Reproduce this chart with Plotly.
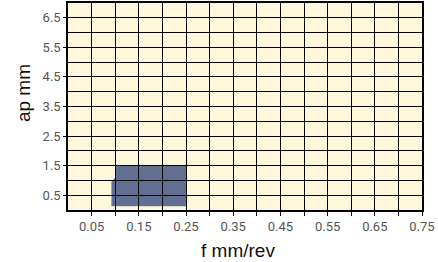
import plotly.graph_objects as go

# Data
x_tick_vals = [0.05, 0.15, 0.25, 0.35, 0.45, 0.55, 0.65, 0.75]
x_tick_text = ["0.05", "0.15", "0.25", "0.35", "0.45", "0.55", "0.65", "0.75"]
x_minor_vals = [0.1, 0.2, 0.3, 0.4, 0.5, 0.6, 0.7]
y_tick_vals = [0.5, 1.5, 2.5, 3.5, 4.5, 5.5, 6.5]
y_tick_text = ["0.5", "1.5", "2.5", "3.5", "4.5", "5.5", "6.5"]
y_minor_vals = [1, 2, 3, 4, 5, 6]
x_title = "f mm/rev"
y_title = "ap mm"

# Recommended working region (f mm/rev, ap mm) polygon vertices
region_f = [0.092, 0.092, 0.1, 0.1, 0.25, 0.25]
region_ap = [0.13, 0.95, 1.1, 1.5, 1.5, 0.13]

path = "M " + " L ".join(f"{f},{a}" for f, a in zip(region_f, region_ap)) + " Z"

fig = go.Figure()
fig.add_trace(go.Scatter(x=[0, 0.75], y=[0, 7], mode="markers",
                         marker=dict(opacity=0), hoverinfo="skip", showlegend=False))

fig.add_shape(type="path", path=path, xref="x", yref="y", layer="below",
              fillcolor="#606f92", line=dict(width=0))

title_font = dict(family="Liberation Sans, Arial", size=19, color="#111")
fig.add_annotation(text=x_title, xref="paper", yref="paper", x=0.48, y=-0.198,
                   xanchor="center", yanchor="middle", showarrow=False, font=title_font)
fig.add_annotation(text=y_title, xref="paper", yref="paper", x=-0.127, y=0.565,
                   xanchor="center", yanchor="middle", showarrow=False, textangle=-90,
                   font=title_font)

grid = dict(showgrid=True, gridcolor="#000000", gridwidth=1.3)
fig.update_layout(
    width=438, height=262,
    margin=dict(l=68, r=16, t=3, b=52),
    paper_bgcolor="white", plot_bgcolor="#fff8dc",
    font=dict(family="Roboto, Arial, sans-serif", color="#555555", size=13),
    showlegend=False,
    xaxis=dict(range=[0, 0.75], tickvals=x_tick_vals, ticktext=x_tick_text,
               ticks="outside", ticklen=4, tickcolor="#000", zeroline=False,
               showline=True, linecolor="#000", linewidth=1.5, mirror=True,
               minor=dict(tickvals=x_minor_vals, showgrid=True, gridcolor="#000",
                          gridwidth=1.3, ticks="outside", ticklen=4, tickcolor="#000"),
               automargin=False,
               **grid),
    yaxis=dict(range=[0, 7], tickvals=y_tick_vals, ticktext=y_tick_text,
               ticks="outside", ticklen=3, tickcolor="#000", zeroline=False,
               showline=True, linecolor="#000", linewidth=1.5, mirror=True,
               minor=dict(tickvals=y_minor_vals, showgrid=True, gridcolor="#000",
                          gridwidth=1.3),
               automargin=False,
               **grid),
)
fig.write_html("out.html", config={"displayModeBar": False},
               post_script="document.body.style.margin='0';")
